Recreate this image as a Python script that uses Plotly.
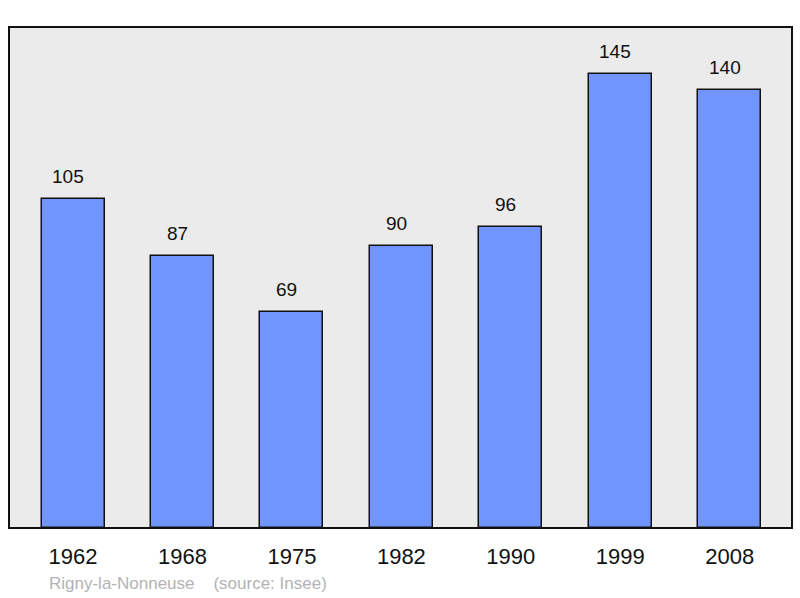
import plotly.graph_objects as go

years = ["1962", "1968", "1975", "1982", "1990", "1999", "2008"]
population = [105, 87, 69, 90, 96, 145, 140]
footer = "Rigny-la-Nonneuse    (source: Insee)"

idx = list(range(len(years)))

fig = go.Figure()
fig.add_trace(go.Bar(
    x=idx, y=population, width=0.576,
    marker=dict(color="#7095ff", line=dict(color="#111111", width=1.5)),
    hoverinfo="skip",
))

for i, v in zip(idx, population):
    fig.add_annotation(x=i, y=v, text=str(v), showarrow=False,
                       yanchor="bottom", yshift=10, xshift=-5,
                       font=dict(family="Liberation Sans, Arial", size=19, color="#111111"))

fig.add_annotation(xref="paper", yref="paper", x=0.048, y=-0.111, text=footer,
                   showarrow=False, xanchor="left", yanchor="middle",
                   font=dict(family="Liberation Sans, Arial", size=17, color="#b3b3b3"))

fig.add_shape(type="rect", xref="paper", yref="paper", x0=0, x1=1, y0=0, y1=1,
              line=dict(color="#111111", width=2), layer="above")

fig.update_layout(
    width=800, height=598,
    margin=dict(l=9, r=8, t=27, b=70),
    paper_bgcolor="white", plot_bgcolor="#ebebeb",
    showlegend=False, bargap=0,
    xaxis=dict(range=[-0.585, 6.569], tickvals=idx, ticktext=years,
               showgrid=False, zeroline=False, ticks="", ticklabelstandoff=13,
               tickfont=dict(family="Liberation Sans, Arial", size=22, color="#111111")),
    yaxis=dict(range=[0, 160], visible=False, showgrid=False, zeroline=False),
)

fig.write_html("out.html", config={"displayModeBar": False},
               post_script="document.body.style.margin='0';")
